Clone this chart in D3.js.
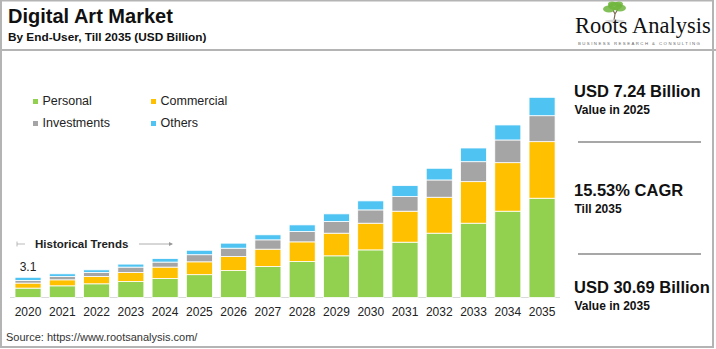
<!DOCTYPE html>
<html>
<head>
<meta charset="utf-8">
<script src="https://cdn.jsdelivr.net/npm/d3@7"></script>
<style>
  body { margin: 0; background: #fff; }
  svg { display: block; font-family: "Liberation Sans", Arial, sans-serif; }
</style>
</head>
<body>
<svg id="chart" width="716" height="349"></svg>
<script>
const svg = d3.select("#chart");

// Market values by end-user, USD billion
const years = ["2020", "2021", "2022", "2023", "2024", "2025", "2026", "2027",
               "2028", "2029", "2030", "2031", "2032", "2033", "2034", "2035"];
const personal    = [1.44, 1.79, 2.10, 2.45, 2.91, 3.50, 4.13, 4.75, 5.51, 6.39, 7.30, 8.48, 9.86, 11.39, 13.23, 15.22];
const commercial  = [0.77, 0.92, 1.12, 1.38, 1.75, 1.97, 2.14, 2.66, 3.02, 3.47, 4.09, 4.75, 5.51, 6.37, 7.44, 8.67];
const investments = [0.40, 0.51, 0.61, 0.83, 0.77, 1.09, 1.29, 1.43, 1.58, 1.78, 2.04, 2.24, 2.65, 3.06, 3.48, 3.98];
const others      = [0.49, 0.41, 0.41, 0.46, 0.55, 0.68, 0.77, 0.77, 1.02, 1.18, 1.38, 1.68, 1.79, 2.10, 2.30, 2.82];

const seriesNames = ["Personal", "Commercial", "Investments", "Others"];
const seriesColors = ["#92d050", "#ffc000", "#a5a5a5", "#4fc3f2"];

const highlights = [
    { big: "USD 7.24 Billion", small: "Value in 2025" },
    { big: "15.53% CAGR", small: "Till 2035" },
    { big: "USD 30.69 Billion", small: "Value in 2035" }
];

const rows = years.map((y, i) => ({
    year: y,
    Personal: personal[i],
    Commercial: commercial[i],
    Investments: investments[i],
    Others: others[i]
}));
const totals = rows.map(r => seriesNames.reduce((s, k) => s + r[k], 0));

// frame + header separator
svg.append("rect")
    .attr("x", 1).attr("y", 0.5).attr("width", 712).attr("height", 346.5)
    .attr("fill", "none").attr("stroke", "#b4b4b4").attr("stroke-width", 2);
svg.append("line")
    .attr("x1", 0).attr("x2", 716).attr("y1", 50).attr("y2", 50)
    .attr("stroke", "#b4b4b4").attr("stroke-width", 2);

// title
svg.append("text").attr("x", 8).attr("y", 23)
    .attr("font-size", 20).attr("font-weight", "bold").attr("fill", "#111")
    .text("Digital Art Market");
svg.append("text").attr("x", 8).attr("y", 41)
    .attr("font-size", 11.8).attr("font-weight", "bold").attr("fill", "#111")
    .text("By End-User, Till 2035 (USD Billion)");

// logo
const logo = svg.append("g");
logo.append("path")
    .attr("d", "M614,20 L615,14 L613,10 M615,14 L618,9")
    .attr("stroke", "#7a6a50").attr("stroke-width", 1.2).attr("fill", "none");
[[609, 9, 6, 3.5], [620, 8, 6, 3.5], [615, 6, 7, 4], [612, 4, 4, 2.5], [619, 4, 4, 2.5]]
    .forEach(([cx, cy, rx, ry]) => {
        logo.append("ellipse").attr("cx", cx).attr("cy", cy).attr("rx", rx).attr("ry", ry)
            .attr("fill", "#6fb53c").attr("opacity", 0.85);
    });
logo.append("ellipse").attr("cx", 615).attr("cy", 21).attr("rx", 10).attr("ry", 1.5)
    .attr("fill", "#d8d8d8");
logo.append("text").attr("x", 575).attr("y", 33)
    .attr("font-family", "'Liberation Serif', 'Times New Roman', serif")
    .attr("font-size", 22.5).attr("fill", "#111")
    .text("Roots Analysis");
logo.append("text").attr("x", 578).attr("y", 44.5)
    .attr("font-size", 4.3).attr("letter-spacing", 1.45).attr("fill", "#666")
    .text("BUSINESS RESEARCH & CONSULTING");

// scales
const x = d3.scaleBand()
    .domain(years)
    .range([10.9, 559.2])
    .paddingInner(0.24)
    .paddingOuter(0.12);

const y = d3.scaleLinear()
    .domain([0, 30.69])
    .range([297.5, 97.3]);

const color = d3.scaleOrdinal().domain(seriesNames).range(seriesColors);

const stacked = d3.stack().keys(seriesNames)(rows);

// baseline
svg.append("line")
    .attr("x1", 10).attr("x2", 560).attr("y1", 297.5).attr("y2", 297.5)
    .attr("stroke", "#d9d9d9").attr("stroke-width", 1);

// bars
svg.append("g")
    .selectAll("g")
    .data(stacked)
    .join("g")
    .attr("fill", d => color(d.key))
    .selectAll("rect")
    .data(d => d)
    .join("rect")
    .attr("x", d => x(d.data.year))
    .attr("width", x.bandwidth())
    .attr("y", d => y(d[1]))
    .attr("height", d => y(d[0]) - y(d[1]))
    .attr("stroke", "#fff")
    .attr("stroke-width", 0.8);

// x axis labels
const xAxis = svg.append("g")
    .attr("transform", "translate(0,297.5)")
    .call(d3.axisBottom(x).tickSize(0).tickPadding(10));
xAxis.select(".domain").remove();
xAxis.selectAll("text")
    .attr("font-family", "'Liberation Sans', Arial, sans-serif")
    .attr("font-size", 12).attr("fill", "#222");

// first-year total label
svg.append("text")
    .attr("x", x(years[0]) + x.bandwidth() / 2)
    .attr("y", y(totals[0]) - 6)
    .attr("text-anchor", "middle")
    .attr("font-size", 12).attr("fill", "#222")
    .text(d3.format(".1f")(totals[0]));

// historical trends marker
const hist = svg.append("g");
hist.append("line").attr("x1", 17).attr("x2", 25).attr("y1", 244).attr("y2", 244)
    .attr("stroke", "#aaa").attr("stroke-width", 0.8);
hist.append("line").attr("x1", 17).attr("x2", 17).attr("y1", 241.5).attr("y2", 246.5)
    .attr("stroke", "#aaa").attr("stroke-width", 0.8);
hist.append("text").attr("x", 35).attr("y", 248)
    .attr("font-size", 11.5).attr("font-weight", "bold").attr("fill", "#222")
    .text("Historical Trends");
hist.append("line").attr("x1", 139).attr("x2", 172).attr("y1", 244).attr("y2", 244)
    .attr("stroke", "#999").attr("stroke-width", 0.8);
hist.append("path").attr("d", "M169,242 L173,244 L169,246 Z").attr("fill", "#999");

// legend
const legendPos = [[33, 99], [151, 99], [33, 121], [151, 121]];
const legend = svg.append("g")
    .selectAll("g")
    .data(seriesNames)
    .join("g")
    .attr("transform", (d, i) => `translate(${legendPos[i][0]},${legendPos[i][1]})`);
legend.append("rect")
    .attr("width", 5).attr("height", 5)
    .attr("fill", d => color(d));
legend.append("text")
    .attr("x", 9.5).attr("y", 6)
    .attr("font-size", 12.5).attr("fill", "#222")
    .text(d => d);

// highlights panel
const hy = [97, 196, 293];
highlights.forEach((h, i) => {
    svg.append("text").attr("x", 574).attr("y", hy[i])
        .attr("font-size", 16.5).attr("font-weight", "bold").attr("fill", "#111")
        .text(h.big);
    svg.append("text").attr("x", 574.5).attr("y", hy[i] + 17)
        .attr("font-size", 12).attr("font-weight", "bold").attr("fill", "#111")
        .text(h.small);
});
[142, 254].forEach(ly => {
    svg.append("line").attr("x1", 578).attr("x2", 701).attr("y1", ly).attr("y2", ly)
        .attr("stroke", "#8a8a8a").attr("stroke-width", 1.5);
});

// source
svg.append("text").attr("x", 6).attr("y", 341)
    .attr("font-size", 11).attr("fill", "#333")
    .text("Source: https://www.rootsanalysis.com/");
</script>
</body>
</html>
